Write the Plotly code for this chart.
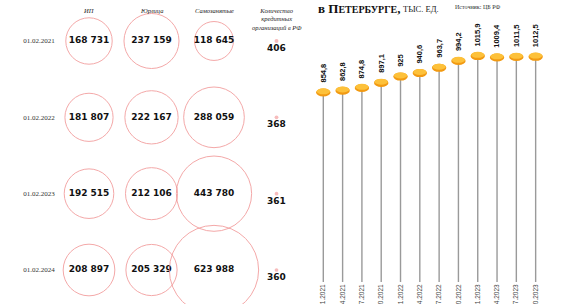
import plotly.graph_objects as go

# ---- data: left panel (bubbles) ----
row_dates = ["01.02.2021", "01.02.2022", "01.02.2023", "01.02.2024"]
col_headers = ["ИП", "Юрлица", "Самозанятые", "Количество<br>кредитных<br>организаций в РФ"]
ip_vals = [168731, 181807, 192515, 208897]
yur_vals = [237159, 222167, 212106, 205329]
samoz_vals = [118645, 288059, 443780, 623988]
credit_vals = [406, 368, 361, 360]

# ---- data: right panel (lollipop) ----
quarters = ["01.01.2021", "01.04.2021", "01.07.2021", "01.10.2021",
            "01.01.2022", "01.04.2022", "01.07.2022", "01.10.2022",
            "01.01.2023", "01.04.2023", "01.07.2023", "01.10.2023"]
cards = [854.8, 862.8, 874.8, 897.1, 925, 940.6, 963.7, 994.2, 1015.9, 1009.4, 1011.5, 1012.5]

title_right = "в П<span style='font-size:10px'>ЕТЕРБУРГЕ</span>,"
units = "ТЫС. ЕД."
source = "Источник: ЦБ РФ"

Y_MIN, Y_MAX = 14, 1260
SIZEREF = 156.6
RED = "#f08585"

def fmt_int(v):
    return f"<b>{v:,}</b>".replace(",", " ")

def fmt_dec(v):
    return f"<b>{v:g}</b>".replace(".", ",")

fig = go.Figure()

# bubbles (outline circles)
for header, vals in zip(col_headers[:3], [ip_vals, yur_vals, samoz_vals]):
    fig.add_trace(go.Scatter(
        x=[header] * len(vals), y=row_dates,
        mode="markers+text",
        marker=dict(size=vals, sizemode="area", sizeref=SIZEREF,
                    color="rgba(0,0,0,0)", line=dict(color=RED, width=1)),
        text=[fmt_int(v) for v in vals], textposition="middle center",
        textfont=dict(family="DejaVu Sans", size=9, color="#111"),
        xaxis="x2", yaxis="y2", hoverinfo="skip", cliponaxis=False,
    ))

# credit organisations: tiny dots with numbers below
fig.add_trace(go.Scatter(
    x=[col_headers[3]] * len(credit_vals), y=row_dates,
    mode="markers+text",
    marker=dict(size=credit_vals, sizemode="area", sizeref=SIZEREF / 3,
                color="#f4a0a0", line=dict(width=0)),
    text=[f"<b>{v}</b>" for v in credit_vals], textposition="bottom center",
    textfont=dict(family="DejaVu Sans", size=9, color="#111"),
    xaxis="x2", yaxis="y2", hoverinfo="skip", cliponaxis=False,
))

# stems for lollipops
sx, sy = [], []
for q, v in zip(quarters, cards):
    sx += [q, q, None]
    sy += [Y_MIN, v, None]
fig.add_trace(go.Scatter(x=sx, y=sy, mode="lines",
                         line=dict(color="#9a9a9a", width=1.4),
                         hoverinfo="skip", xaxis="x", yaxis="y"))

shapes = []
annotations = []
for q, v in zip(quarters, cards):
    # coin rim (darker) and face (lighter)
    shapes.append(dict(type="circle", xref="x", yref="y",
                       xsizemode="pixel", ysizemode="pixel",
                       xanchor=q, yanchor=v, x0=-7.2, x1=7.2, y0=-4.8, y1=3.2,
                       fillcolor="#f29a12", line=dict(width=0)))
    shapes.append(dict(type="circle", xref="x", yref="y",
                       xsizemode="pixel", ysizemode="pixel",
                       xanchor=q, yanchor=v, x0=-6.6, x1=6.6, y0=-2.6, y1=3.4,
                       fillcolor="#fdc13a", line=dict(width=0)))
    annotations.append(dict(x=q, y=v, xref="x", yref="y", text=fmt_dec(v),
                            textangle=-90, showarrow=False, yanchor="bottom",
                            xanchor="center", yshift=7,
                            font=dict(family="Liberation Sans", size=7.5, color="#111")))

# column headers (left)
for h in col_headers:
    annotations.append(dict(x=h, y=1 - 5 / 282, xref="x2", yref="paper",
                            text=f"<i>{h}</i>", showarrow=False,
                            yanchor="top", xanchor="center",
                            font=dict(family="Liberation Serif", size=6.5, color="#222")))

# right title + source
annotations.append(dict(x=316 / 563, y=1 - 8 / 282, xref="paper", yref="paper",
                        text=f"<b>{title_right}</b>", showarrow=False,
                        xanchor="left", yanchor="middle",
                        font=dict(family="Liberation Serif", size=13, color="#111")))
annotations.append(dict(x=401 / 563, y=1 - 8.5 / 282, xref="paper", yref="paper",
                        text=units, showarrow=False,
                        xanchor="left", yanchor="middle",
                        font=dict(family="Liberation Serif", size=8.5, color="#222")))
annotations.append(dict(x=453 / 563, y=1 - 7.5 / 282, xref="paper", yref="paper",
                        text=source, showarrow=False,
                        xanchor="left", yanchor="middle",
                        font=dict(family="Liberation Serif", size=6, color="#333")))

fig.update_layout(
    width=563, height=304,
    margin=dict(l=0, r=0, t=0, b=22, autoexpand=False),
    paper_bgcolor="white", plot_bgcolor="rgba(0,0,0,0)",
    showlegend=False,
    shapes=shapes, annotations=annotations,
    xaxis=dict(domain=[313.65 / 563, 545.3 / 563], type="category",
               categoryorder="array", categoryarray=quarters,
               range=[-0.5, len(quarters) - 0.5], automargin=False,
               showgrid=False, zeroline=False, showline=False, ticks="",
               tickangle=-90, tickfont=dict(family="Liberation Sans", size=6.5, color="#444")),
    yaxis=dict(domain=[0, 1], range=[Y_MIN, Y_MAX], visible=False, automargin=False),
    xaxis2=dict(domain=[57.75 / 563, 307.75 / 563], anchor="y2", type="category",
                categoryorder="array", categoryarray=col_headers,
                range=[-0.5, 3.5], visible=False, automargin=False),
    yaxis2=dict(domain=[0, 1], anchor="x2", type="category",
                categoryorder="array", categoryarray=row_dates,
                range=[3.157, -0.537], automargin=False,
                showgrid=False, zeroline=False, showline=False, ticks="",
                ticklabelstandoff=2,
                tickfont=dict(family="Liberation Serif", size=7, color="#333")),
)

fig.write_html("out.html")
